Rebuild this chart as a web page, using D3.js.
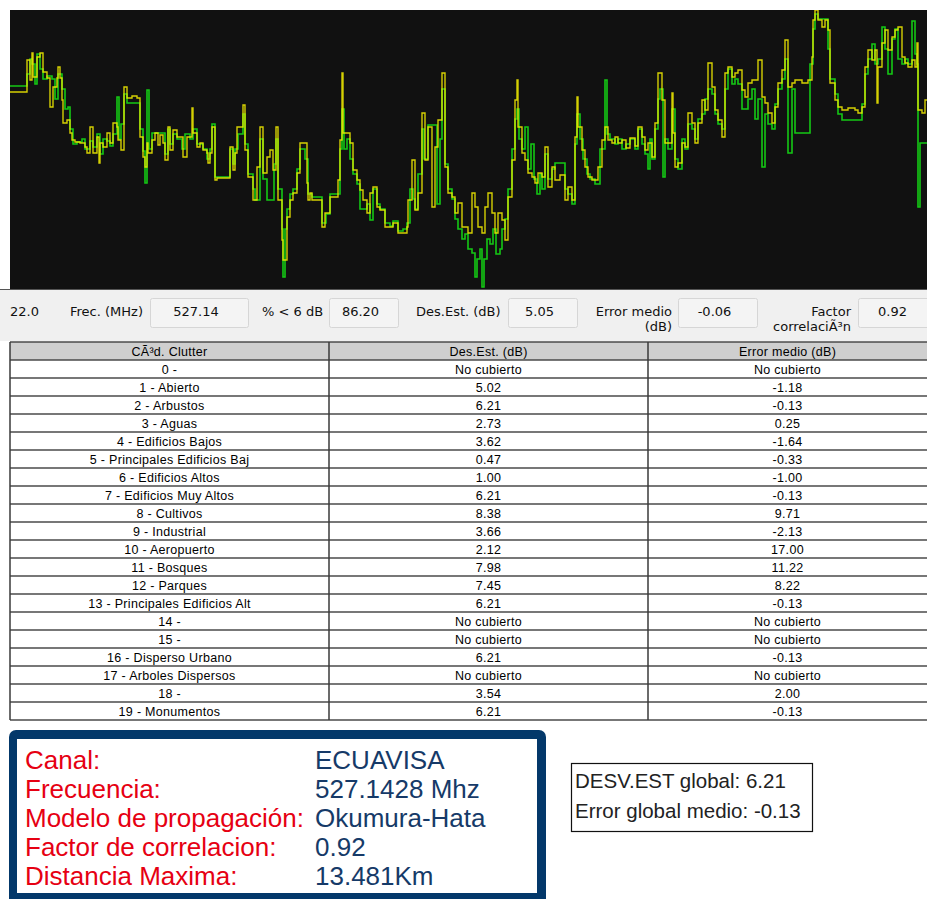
<!DOCTYPE html>
<html><head><meta charset="utf-8">
<script src="https://cdn.jsdelivr.net/npm/d3@7"></script>
<style>
html,body{margin:0;padding:0;background:#fff;}
svg{display:block;}
</style></head>
<body>
<svg id="chart" width="927" height="899"></svg>
<script>
// ---- Data (x = sample index along route, y = relative level) ----
const predictedSeries = [[0,197],[13,197],[17,229],[20,209],[22,236],[23,212],[27,232],[30,236],[33,217],[37,211],[40,182],[43,202],[47,211],[48,222],[50,211],[52,189],[53,166],[57,169],[60,156],[62,149],[65,147],[70,146],[75,142],[77,136],[80,162],[83,136],[87,152],[89,126],[90,146],[93,142],[97,156],[100,146],[103,166],[107,162],[108,149],[111,139],[114,202],[117,191],[122,193],[127,191],[130,152],[133,132],[135,122],[137,146],[138,136],[142,149],[145,156],[148,144],[150,154],[153,146],[155,129],[158,162],[160,139],[163,159],[167,152],[172,152],[173,132],[177,152],[182,181],[183,156],[187,142],[190,146],[193,139],[197,136],[198,126],[200,136],[202,162],[205,109],[207,111],[217,111],[220,142],[223,119],[225,136],[227,162],[230,162],[233,184],[235,139],[238,112],[243,89],[247,122],[250,162],[253,116],[257,132],[260,139],[263,119],[266,162],[268,89],[272,49],[273,29],[277,72],[280,89],[283,96],[287,116],[290,146],[293,146],[297,106],[298,89],[300,96],[302,89],[308,89],[312,62],[315,76],[320,92],[327,92],[328,109],[330,149],[332,216],[333,156],[337,156],[340,146],[343,119],[347,109],[350,99],[353,89],[357,76],[360,96],[363,102],[367,82],[370,79],[375,62],[380,62],[383,66],[388,56],[393,56],[397,62],[398,89],[402,129],[405,79],[408,96],[412,176],[415,129],[418,162],[422,82],[425,142],[428,169],[432,216],[435,122],[438,96],[442,92],[445,76],[448,86],[452,62],[455,62],[458,56],[462,96],[465,82],[468,62],[472,56],[475,82],[478,96],[482,76],[485,56],[488,76],[492,69],[495,49],[498,92],[502,129],[505,189],[507,209],[508,162],[512,136],[515,129],[518,116],[522,112],[525,106],[528,116],[532,112],[535,142],[538,102],[542,122],[545,109],[550,114],[555,89],[558,102],[562,89],[565,152],[567,192],[568,162],[572,139],[575,122],[578,112],[582,109],[585,109],[588,122],[592,149],[595,162],[598,149],[602,146],[605,152],[608,146],[612,149],[616,141],[620,151],[625,143],[628,162],[632,152],[635,139],[638,146],[642,132],[645,166],[648,216],[652,189],[655,146],[658,146],[662,196],[663,156],[665,122],[668,126],[672,146],[675,142],[678,176],[682,166],[685,146],[688,166],[692,189],[695,179],[698,226],[702,202],[705,179],[708,169],[712,152],[715,216],[718,222],[722,212],[725,216],[728,219],[732,199],[735,192],[738,206],[742,209],[745,209],[748,229],[752,192],[755,186],[758,176],[762,166],[765,182],[768,206],[772,219],[775,249],[778,202],[782,206],[785,209],[792,206],[798,209],[802,232],[803,269],[805,279],[808,269],[812,262],[815,269],[818,259],[820,206],[825,189],[828,182],[832,179],[838,181],[845,179],[848,176],[852,182],[855,222],[858,239],[862,229],[865,239],[867,186],[868,222],[872,246],[875,259],[878,239],[882,252],[885,259],[888,262],[892,232],[895,226],[898,222],[902,229],[905,222],[907,246],[908,179],[912,176],[915,189],[917,189]];

const measuredSeries = [[0,203],[15,203],[17,215],[20,230],[22,225],[25,205],[27,235],[30,220],[33,210],[37,213],[42,210],[45,190],[48,215],[52,200],[55,180],[58,182],[60,160],[63,145],[67,147],[72,150],[75,140],[80,148],[83,142],[87,155],[90,135],[93,150],[97,148],[100,143],[103,155],[107,192],[109,150],[111,165],[114,195],[117,186],[127,186],[130,160],[133,138],[135,106],[137,199],[139,140],[142,156],[153,156],[155,135],[158,160],[160,145],[163,155],[167,150],[172,140],[175,155],[180,150],[183,160],[187,145],[193,140],[197,130],[200,140],[202,165],[205,112],[217,112],[220,140],[223,125],[225,140],[228,155],[233,175],[235,145],[238,115],[243,100],[245,89],[250,150],[253,110],[257,89],[262,89],[264,125],[266,150],[268,100],[272,60],[273,12],[275,60],[277,80],[280,95],[283,100],[287,120],[290,140],[295,130],[298,95],[302,92],[308,92],[312,66],[316,75],[320,95],[327,95],[330,140],[332,180],[334,140],[337,150],[340,130],[343,115],[347,105],[350,80],[353,80],[357,85],[360,69],[363,100],[367,85],[370,80],[375,66],[380,63],[383,68],[388,58],[393,60],[397,66],[400,100],[403,90],[405,80],[408,115],[412,160],[414,130],[418,164],[425,164],[427,85],[430,150],[432,200],[435,125],[438,100],[442,90],[445,70],[448,60],[452,50],[455,55],[458,40],[462,36],[465,12],[467,30],[470,40],[472,2],[474,30],[477,50],[480,45],[483,60],[486,35],[490,40],[492,60],[495,70],[498,100],[502,140],[505,170],[507,180],[509,150],[512,140],[515,162],[518,120],[521,145],[524,110],[527,95],[530,115],[532,100],[535,135],[538,110],[542,120],[545,126],[552,126],[555,100],[558,95],[562,85],[565,145],[567,175],[570,150],[573,130],[577,115],[580,110],[585,105],[590,140],[595,209],[597,155],[600,150],[605,145],[608,150],[612,140],[616,145],[620,150],[625,140],[628,160],[632,145],[635,135],[638,120],[640,150],[642,130],[645,160],[648,190],[650,200],[653,112],[655,150],[658,140],[662,180],[665,130],[668,120],[672,150],[675,140],[678,165],[682,160],[685,150],[688,170],[692,175],[695,190],[698,200],[702,195],[705,175],[708,165],[712,160],[715,200],[718,220],[722,205],[725,210],[728,205],[732,180],[735,180],[738,190],[742,200],[745,170],[748,190],[752,122],[755,175],[758,165],[762,160],[765,185],[768,200],[772,210],[775,230],[778,136],[782,200],[785,156],[798,156],[800,225],[803,260],[805,275],[808,270],[815,270],[818,240],[820,210],[825,195],[828,175],[832,169],[848,169],[852,185],[855,215],[858,230],[862,245],[865,225],[868,230],[872,262],[875,240],[878,215],[882,250],[885,260],[888,230],[892,225],[895,230],[898,225],[902,268],[905,235],[907,225],[908,82],[910,146],[917,146]];

const leftValueLabel = "22.0";
const statLabels = [["Frec. (MHz)"], ["% < 6 dB"], ["Des.Est. (dB)"], ["Error medio", "(dB)"], ["Factor", "correlaciÃ³n"]];
const statValues = ["527.14", "86.20", "5.05", "-0.06", "0.92"];

const tableHeaders = ["CÃ³d. Clutter", "Des.Est. (dB)", "Error medio (dB)"];
const clutterNames = ["0 -","1 - Abierto","2 - Arbustos","3 - Aguas","4 - Edificios Bajos","5 - Principales Edificios Baj","6 - Edificios Altos","7 - Edificios Muy Altos","8 - Cultivos","9 - Industrial","10 - Aeropuerto","11 - Bosques","12 - Parques","13 - Principales Edificios Alt","14 -","15 -","16 - Disperso Urbano","17 - Arboles Dispersos","18 -","19 - Monumentos"];
const desEst = ["No cubierto","5.02","6.21","2.73","3.62","0.47","1.00","6.21","8.38","3.66","2.12","7.98","7.45","6.21","No cubierto","No cubierto","6.21","No cubierto","3.54","6.21"];
const errorMedio = ["No cubierto","-1.18","-0.13","0.25","-1.64","-0.33","-1.00","-0.13","9.71","-2.13","17.00","11.22","8.22","-0.13","No cubierto","No cubierto","-0.13","No cubierto","2.00","-0.13"];

const infoLabels = ["Canal:", "Frecuencia:", "Modelo de propagación:", "Factor de correlacion:", "Distancia Maxima:"];
const infoValues = ["ECUAVISA", "527.1428 Mhz", "Okumura-Hata", "0.92", "13.481Km"];
const globalLines = ["DESV.EST global: 6.21", "Error global medio: -0.13"];

// ---- Drawing ----
const svg = d3.select("#chart");

// Plot area
const plot = {x0: 10, x1: 927, y0: 10, y1: 289};
svg.append("rect").attr("x", plot.x0).attr("y", plot.y0)
  .attr("width", plot.x1 - plot.x0).attr("height", plot.y1 - plot.y0).attr("fill", "#111111");

const x = d3.scaleLinear().domain([0, 917]).range([plot.x0, plot.x1]);
const y = d3.scaleLinear().domain([0, 279]).range([plot.y1, plot.y0]);
const line = d3.line().x(d => x(d[0])).y(d => y(d[1])).curve(d3.curveStepAfter);

const clip = svg.append("clipPath").attr("id", "pc").append("rect")
  .attr("x", plot.x0).attr("y", plot.y0).attr("width", plot.x1 - plot.x0).attr("height", plot.y1 - plot.y0);
const gPlot = svg.append("g").attr("clip-path", "url(#pc)");
gPlot.append("path").datum(measuredSeries).attr("d", line)
  .attr("fill", "none").attr("stroke", "#14c814").attr("stroke-width", 1.6);
gPlot.append("path").datum(predictedSeries).attr("d", line)
  .attr("fill", "none").attr("stroke", "#f0ea00").attr("stroke-width", 1.4).attr("stroke-opacity", 0.88);

// Stats panel
svg.append("rect").attr("x", 0).attr("y", plot.y1).attr("width", 927).attr("height", 52).attr("fill", "#f0f0f0");
svg.append("line").attr("x1", 0).attr("x2", 927).attr("y1", plot.y1 + 0.5).attr("y2", plot.y1 + 0.5)
  .attr("stroke", "#555").attr("stroke-width", 1);

const statFont = "'DejaVu Sans', sans-serif";
svg.append("text").attr("x", 10).attr("y", 316).attr("font-family", statFont).attr("font-size", 13)
  .attr("fill", "#111").text(leftValueLabel);

const statLayout = [
  {lx: 70, anchor: "start", bx: 150, bw: 98},
  {lx: 262, anchor: "start", bx: 329, bw: 69},
  {lx: 416, anchor: "start", bx: 508, bw: 69},
  {lx: 672, anchor: "end", bx: 678, bw: 79},
  {lx: 851, anchor: "end", bx: 858, bw: 75}
];
statLabels.forEach((lines, i) => {
  const L = statLayout[i];
  lines.forEach((t, j) => {
    svg.append("text").attr("x", L.lx).attr("y", 316 + j * 15).attr("text-anchor", L.anchor)
      .attr("font-family", statFont).attr("font-size", 13).attr("fill", "#111").text(t);
  });
  svg.append("rect").attr("x", L.bx + 0.5).attr("y", 298.5).attr("width", L.bw).attr("height", 29)
    .attr("fill", "#f4f4f4").attr("stroke", "#d6d6d6").attr("rx", 2);
  svg.append("text").attr("x", L.bx + L.bw / 2 - 3).attr("y", 316).attr("text-anchor", "middle")
    .attr("font-family", statFont).attr("font-size", 13).attr("fill", "#111").text(statValues[i]);
});

// Table
const colEdges = [10, 329, 648, 927];
const rowBand = d3.scaleBand().domain(d3.range(clutterNames.length + 1)).range([342, 720]);
const tableFont = "'Liberation Sans', Arial, sans-serif";
const rows = [tableHeaders].concat(clutterNames.map((n, i) => [n, desEst[i], errorMedio[i]]));
const gT = svg.append("g");
gT.append("rect").attr("x", colEdges[0]).attr("y", rowBand(0)).attr("width", colEdges[3] - colEdges[0] + 2)
  .attr("height", rowBand.bandwidth()).attr("fill", "#cfcfcf");
rows.forEach((r, i) => {
  r.forEach((t, c) => {
    gT.append("text").attr("x", (colEdges[c] + colEdges[c + 1]) / 2)
      .attr("y", rowBand(i) + rowBand.bandwidth() / 2 + 4.5).attr("text-anchor", "middle")
      .attr("font-family", tableFont).attr("font-size", 12.5).attr("letter-spacing", 0.3)
      .attr("fill", "#000").text(t);
  });
});
d3.range(clutterNames.length + 2).forEach(i => {
  const yy = i <= clutterNames.length ? rowBand(i) : 720;
  gT.append("line").attr("x1", colEdges[0]).attr("x2", 929).attr("y1", yy).attr("y2", yy)
    .attr("stroke", "#4a4a4a").attr("stroke-width", 1.5);
});
colEdges.slice(0, 3).forEach(cx => {
  gT.append("line").attr("x1", cx).attr("x2", cx).attr("y1", 342).attr("y2", 720)
    .attr("stroke", "#3a3a3a").attr("stroke-width", 1.5);
});

// Info box
svg.append("rect").attr("x", 9).attr("y", 730).attr("width", 537).attr("height", 175).attr("rx", 7).attr("fill", "#03386a");
svg.append("rect").attr("x", 17).attr("y", 739).attr("width", 520).attr("height", 154).attr("fill", "#ffffff");
const infoFont = "'Liberation Sans', Arial, sans-serif";
infoLabels.forEach((t, i) => {
  svg.append("text").attr("x", 25).attr("y", 769 + i * 29).attr("font-family", infoFont).attr("font-size", 26)
    .attr("fill", "#e60012").text(t);
  svg.append("text").attr("x", 315).attr("y", 769 + i * 29).attr("font-family", infoFont).attr("font-size", 26)
    .attr("fill", "#163a68").text(infoValues[i]);
});

// Global box
svg.append("rect").attr("x", 571.5).attr("y", 763.5).attr("width", 241).attr("height", 68)
  .attr("fill", "#fff").attr("stroke", "#111").attr("stroke-width", 1.2);
globalLines.forEach((t, i) => {
  svg.append("text").attr("x", 575).attr("y", 788 + i * 30).attr("font-family", infoFont).attr("font-size", 20.5)
    .attr("fill", "#222").text(t);
});
</script>
</body></html>
